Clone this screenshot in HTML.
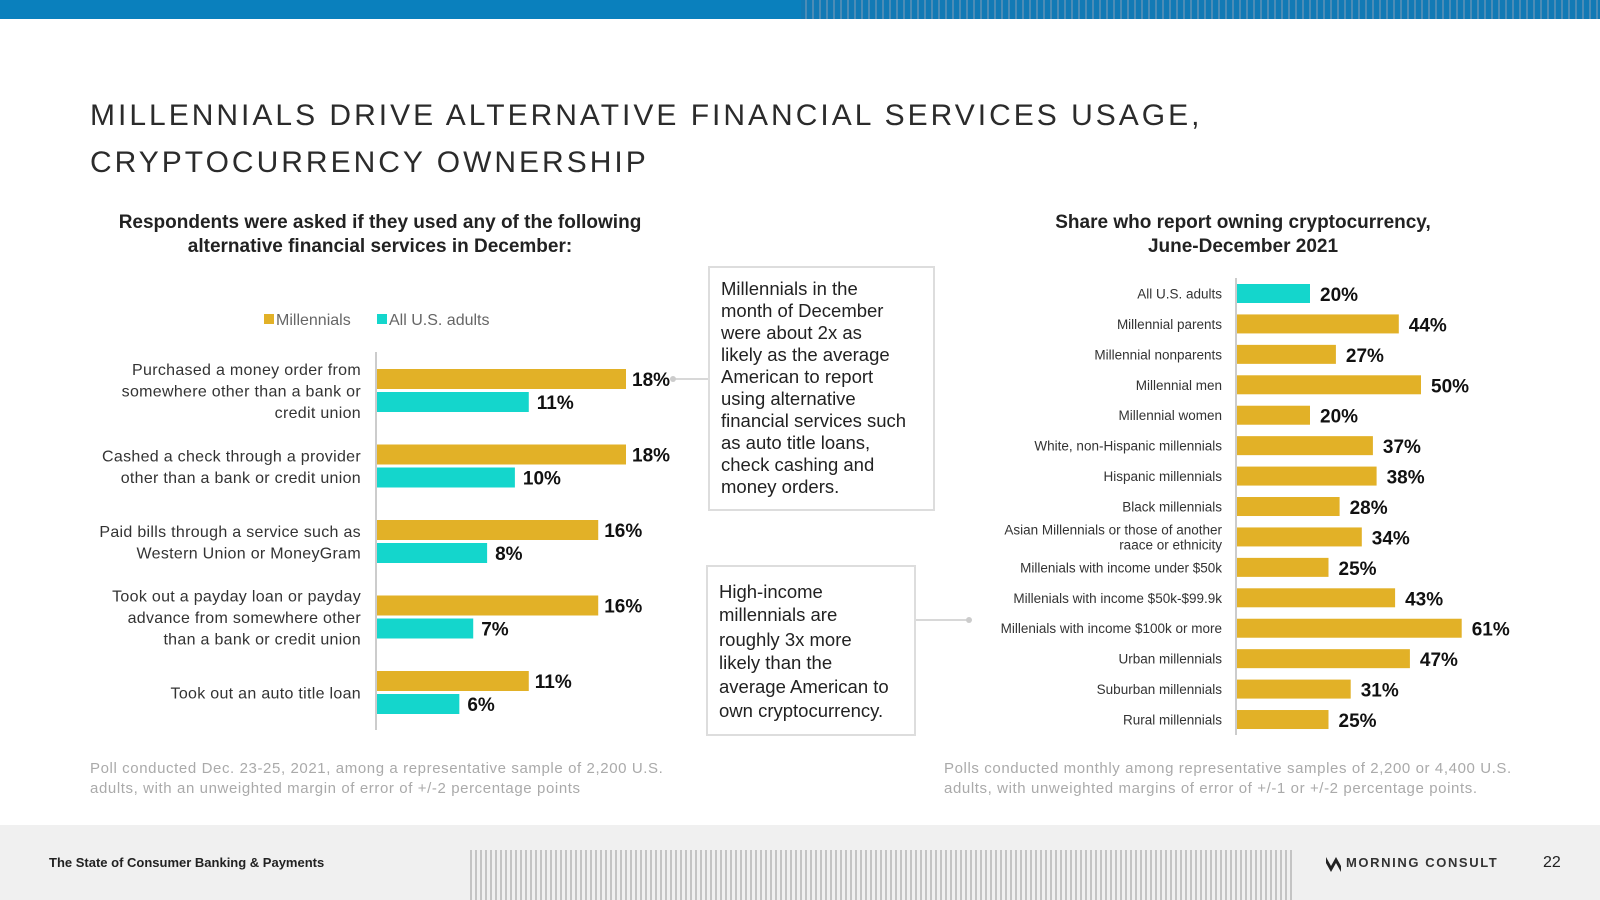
<!DOCTYPE html>
<html><head><meta charset="utf-8"><style>
html,body{margin:0;padding:0;background:#fff;}
svg{display:block;font-family:"Liberation Sans",sans-serif;}
</style></head><body>
<svg id="s" width="1600" height="900" viewBox="0 0 1600 900">
<defs>
<pattern id="topstripe" width="7" height="19" patternUnits="userSpaceOnUse"><rect width="7" height="19" fill="#1479b3"/><rect x="0" width="2" height="19" fill="#5c8fb4"/></pattern>
<pattern id="footstripe" width="5" height="70" patternUnits="userSpaceOnUse"><rect width="5" height="70" fill="#f0f0f0"/><rect x="0" width="2" height="70" fill="#c4c4c4"/></pattern>
</defs>
<rect x="0" y="0" width="1600" height="19" fill="#0a80bd"/>
<rect x="801" y="0" width="799" height="19" fill="url(#topstripe)" opacity="0.8"/>
<g fill="#2b2b2b" font-size="30" letter-spacing="3.0">
<text x="90" y="125">MILLENNIALS DRIVE ALTERNATIVE FINANCIAL SERVICES USAGE,</text>
<text x="90" y="172">CRYPTOCURRENCY OWNERSHIP</text>
</g>
<g fill="#222" font-size="19" font-weight="bold" text-anchor="middle">
<text x="380" y="228">Respondents were asked if they used any of the following</text>
<text x="380" y="252">alternative financial services in December:</text>
</g>
<g fill="#222" font-size="19" font-weight="bold" text-anchor="middle">
<text x="1243" y="228">Share who report owning cryptocurrency,</text>
<text x="1243" y="252">June-December 2021</text>
</g>
<g font-size="16" fill="#666">
<rect x="264" y="314" width="10" height="10" fill="#e2b127"/>
<text x="276" y="325">Millennials</text>
<rect x="377" y="314" width="10" height="10" fill="#14d6cc"/>
<text x="389" y="325">All U.S. adults</text>
</g>
<g id="left"></g>
<g id="right"></g>
<line x1="674" y1="379" x2="709" y2="379" stroke="#ccc" stroke-width="1.5"/>
<circle cx="673" cy="379" r="3" fill="#ccc"/>
<rect x="709" y="267" width="225" height="243" fill="#fff" stroke="#ddd" stroke-width="2"/>
<g font-size="18.5" fill="#222">
<text x="721" y="295">Millennials in the</text>
<text x="721" y="317">month of December</text>
<text x="721" y="339">were about 2x as</text>
<text x="721" y="361">likely as the average</text>
<text x="721" y="383">American to report</text>
<text x="721" y="405">using alternative</text>
<text x="721" y="427">financial services such</text>
<text x="721" y="449">as auto title loans,</text>
<text x="721" y="471">check cashing and</text>
<text x="721" y="493">money orders.</text>
</g>
<line x1="915" y1="620" x2="968" y2="620" stroke="#ccc" stroke-width="1.5"/>
<circle cx="969" cy="620" r="3" fill="#ccc"/>
<rect x="707" y="566" width="208" height="169" fill="#fff" stroke="#ddd" stroke-width="2"/>
<g font-size="18.5" fill="#222">
<text x="719" y="598">High-income</text>
<text x="719" y="621">millennials are</text>
<text x="719" y="646">roughly 3x more</text>
<text x="719" y="669">likely than the</text>
<text x="719" y="693">average American to</text>
<text x="719" y="717">own cryptocurrency.</text>
</g>
<g font-size="15" fill="#aaa" letter-spacing="0.6">
<text x="90" y="773">Poll conducted Dec. 23-25, 2021, among a representative sample of 2,200 U.S.</text>
<text x="90" y="793">adults, with an unweighted margin of error of +/-2 percentage points</text>
</g>
<g font-size="15" fill="#aaa" letter-spacing="0.6">
<text x="944" y="773">Polls conducted monthly among representative samples of 2,200 or 4,400 U.S.</text>
<text x="944" y="793">adults, with unweighted margins of error of +/-1 or +/-2 percentage points.</text>
</g>
<rect x="0" y="825" width="1600" height="75" fill="#f0f0f0"/>
<rect x="469" y="850" width="825" height="50" fill="url(#footstripe)"/>
<text x="49" y="867" font-size="13" font-weight="bold" fill="#222">The State of Consumer Banking &amp; Payments</text>
<g>
<path d="M1326 857 l5 9 l5 -9 l5 9 l0 6 l-5 -9 l-5 9 l-5 -9 z" fill="#222"/>
<text x="1346" y="867" font-size="13" font-weight="bold" letter-spacing="1.6" fill="#333">MORNING CONSULT</text>
</g>
<text x="1543" y="867" font-size="16" fill="#222">22</text>
</svg>
<script>
const leftCategories = [
  ["Purchased a money order from","somewhere other than a bank or","credit union"],
  ["Cashed a check through a provider","other than a bank or credit union"],
  ["Paid bills through a service such as","Western Union or MoneyGram"],
  ["Took out a payday loan or payday","advance from somewhere other","than a bank or credit union"],
  ["Took out an auto title loan"]
];
const millennialsValues = [18, 18, 16, 16, 11];
const allAdultsValues = [11, 10, 8, 7, 6];

const rightCategories = [
  ["All U.S. adults"],["Millennial parents"],["Millennial nonparents"],["Millennial men"],["Millennial women"],
  ["White, non-Hispanic millennials"],["Hispanic millennials"],["Black millennials"],
  ["Asian Millennials or those of another","raace or ethnicity"],
  ["Millenials with income under $50k"],["Millenials with income $50k-$99.9k"],["Millenials with income $100k or more"],
  ["Urban millennials"],["Suburban millennials"],["Rural millennials"]
];
const cryptoValues = [20, 44, 27, 50, 20, 37, 38, 28, 34, 25, 43, 61, 47, 31, 25];

const NS = "http://www.w3.org/2000/svg";
function mk(tag, attrs, parent, txt){
  const e = document.createElementNS(NS, tag);
  for (const k in attrs) e.setAttribute(k, attrs[k]);
  if (txt !== undefined) e.textContent = txt;
  parent.appendChild(e);
  return e;
}
const L = document.getElementById('left');
const lx0 = 376, lScale = 250/18, lTop = 369, lPitch = 75.5, lBarH = 20;
const lx = v => lx0 + v*lScale;
const ax = mk('line',{x1:lx0,y1:352,x2:lx0,y2:730,stroke:'#ccc','stroke-width':2},L);


leftCategories.forEach((lines,i)=>{
  const gy = lTop + i*lPitch;
  const b1 = mk('rect',{x:lx0+1,y:gy,width:lx(millennialsValues[i])-lx0-1,height:lBarH,fill:'#e2b127'},L);
  
  
  const t1 = mk('text',{x:lx(millennialsValues[i])+6,y:gy+17,'font-size':19,'font-weight':'bold',fill:'#111'},L,millennialsValues[i]+'%');
  
  
  const b2 = mk('rect',{x:lx0+1,y:gy+23,width:lx(allAdultsValues[i])-lx0-1,height:lBarH,fill:'#14d6cc'},L);
  
  
  const t2 = mk('text',{x:lx(allAdultsValues[i])+8,y:gy+40,'font-size':19,'font-weight':'bold',fill:'#111'},L,allAdultsValues[i]+'%');
  
  
  const mid = gy + 21.5;
  const n = lines.length;
  lines.forEach((ln,j)=>{
    const t = mk('text',{x:361,y:mid + (j-(n-1)/2)*21.5 + 6,'font-size':16,fill:'#333','text-anchor':'end','letter-spacing':0.3},L,ln);
    
    
  });
});
const R = document.getElementById('right');
const rx0 = 1236, rScale = 3.7, rTop = 284, rPitch = 30.43, rBarH = 19;
const rx = v => rx0 + v*rScale;
const ax2 = mk('line',{x1:rx0,y1:278,x2:rx0,y2:735,stroke:'#ccc','stroke-width':2},R);


rightCategories.forEach((lines,i)=>{
  const y = rTop + i*rPitch;
  const b = mk('rect',{x:rx0+1,y:y,width:rx(cryptoValues[i])-rx0-1,height:rBarH,fill:i===0?'#14d6cc':'#e2b127'},R);
  
  
  const t = mk('text',{x:rx(cryptoValues[i])+10,y:y+17,'font-size':19,'font-weight':'bold',fill:'#111'},R,cryptoValues[i]+'%');
  
  
  const mid = y + rBarH/2;
  const n = lines.length;
  lines.forEach((ln,j)=>{
    const lt = mk('text',{x:1222,y:mid + (j-(n-1)/2)*15 + 5,'font-size':13.5,fill:'#333','text-anchor':'end'},R,ln);
    
    
  });
});
</script>
</body></html>
